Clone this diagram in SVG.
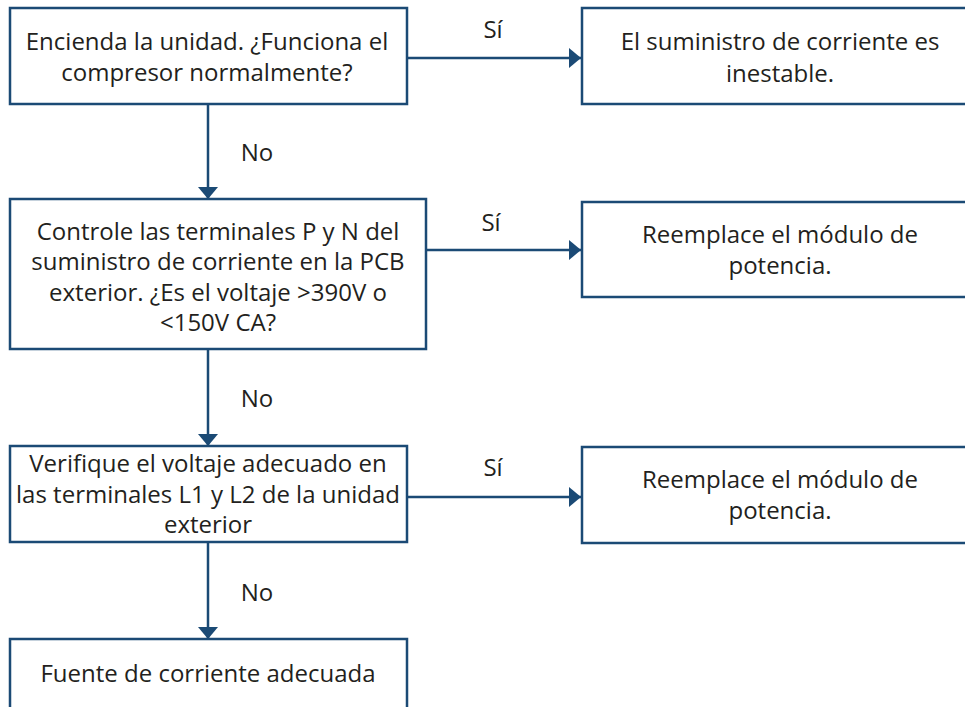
<svg xmlns="http://www.w3.org/2000/svg" width="965" height="707" viewBox="0 0 965 707">
<style>
.box{fill:#fff;stroke:#1b4a75;stroke-width:2.5}
.t{font-family:"Open Sans","Liberation Sans",sans-serif;font-size:24px;fill:#231f20;text-anchor:middle}
.c{stroke:#1b4a75;stroke-width:2.5;fill:none}
</style>
<defs>
<marker id="ah" viewBox="0 0 12 20" refX="12" refY="10" markerWidth="12" markerHeight="20" markerUnits="userSpaceOnUse" orient="auto">
<path d="M0,0 L12,10 L0,20 Z" fill="#1b4a75"/>
</marker>
</defs>
<rect width="965" height="707" fill="#fff"/>
<g id="connectors">
<line class="c" x1="407" y1="58" x2="581" y2="58" marker-end="url(#ah)"/>
<line class="c" x1="426" y1="250" x2="581" y2="250" marker-end="url(#ah)"/>
<line class="c" x1="407" y1="497" x2="581" y2="497" marker-end="url(#ah)"/>
<line class="c" x1="208" y1="104" x2="208" y2="199" marker-end="url(#ah)"/>
<line class="c" x1="208" y1="349" x2="208" y2="446" marker-end="url(#ah)"/>
<line class="c" x1="208" y1="542" x2="208" y2="639" marker-end="url(#ah)"/>
<text class="t" x="493" y="38">Sí</text>
<text class="t" x="491" y="231">Sí</text>
<text class="t" x="493" y="476">Sí</text>
<text class="t" x="257" y="161">No</text>
<text class="t" x="257" y="407">No</text>
<text class="t" x="257" y="601">No</text>
</g>
<g id="n1">
<rect class="box" x="10" y="8" width="397" height="96"/>
<text class="t" x="207" y="50">Encienda la unidad. ¿Funciona el</text>
<text class="t" x="207" y="81">compresor normalmente?</text>
</g>
<g id="n2">
<rect class="box" x="582" y="8" width="400" height="96"/>
<text class="t" x="780" y="50">El suministro de corriente es</text>
<text class="t" x="780" y="82">inestable.</text>
</g>
<g id="n3">
<rect class="box" x="10" y="199" width="416" height="150"/>
<text class="t" x="218" y="240">Controle las terminales P y N del</text>
<text class="t" x="218" y="270">suministro de corriente en la PCB</text>
<text class="t" x="218" y="301">exterior. ¿Es el voltaje &gt;390V o</text>
<text class="t" x="218" y="331">&lt;150V CA?</text>
</g>
<g id="n4">
<rect class="box" x="582" y="202" width="400" height="95"/>
<text class="t" x="780" y="243">Reemplace el módulo de</text>
<text class="t" x="780" y="274">potencia.</text>
</g>
<g id="n5">
<rect class="box" x="10" y="446" width="397" height="96"/>
<text class="t" x="208" y="472">Verifique el voltaje adecuado en</text>
<text class="t" x="208" y="503">las terminales L1 y L2 de la unidad</text>
<text class="t" x="208" y="533">exterior</text>
</g>
<g id="n6">
<rect class="box" x="582" y="447" width="400" height="96"/>
<text class="t" x="780" y="488">Reemplace el módulo de</text>
<text class="t" x="780" y="519">potencia.</text>
</g>
<g id="n7">
<rect class="box" x="10" y="639" width="397" height="100"/>
<text class="t" x="208" y="682">Fuente de corriente adecuada</text>
</g>
</svg>
